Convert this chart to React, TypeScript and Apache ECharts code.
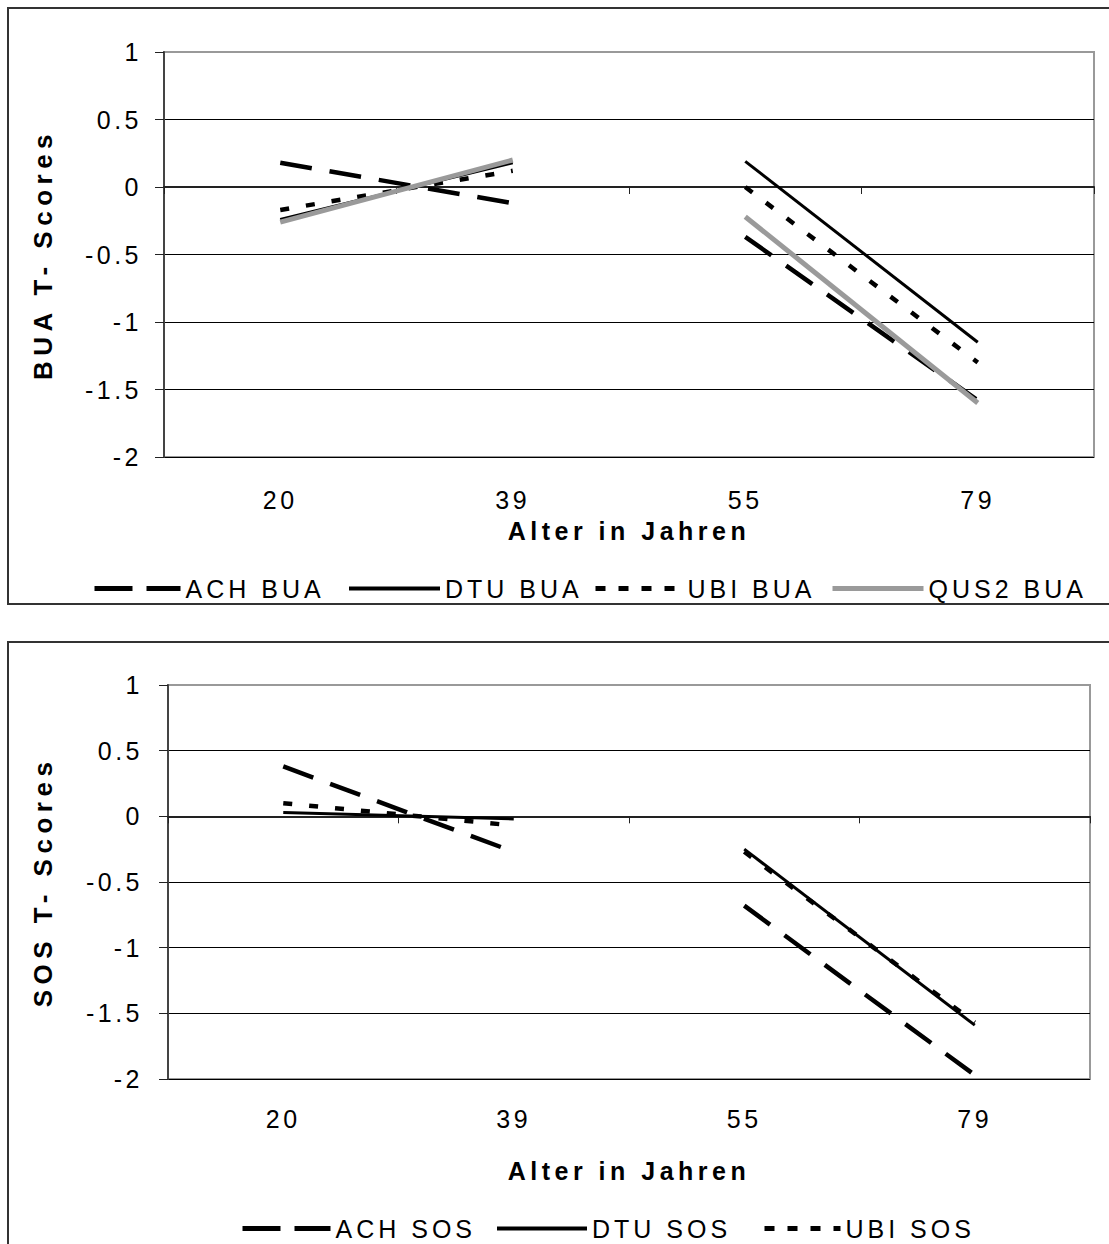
import React, { useEffect, useRef } from 'react';
import * as echarts from 'echarts';

// ---- data ----
const ages = ['20', '39', '55', '79'];

const achBua = [0.18, -0.12, -0.37, -1.58];
const dtuBua = [-0.24, 0.18, 0.19, -1.15];
const ubiBua = [-0.17, 0.12, 0.0, -1.3];
const qusBua = [-0.26, 0.2, -0.22, -1.6];

const achSos = [0.38, -0.27, -0.68, -1.97];
const dtuSos = [0.03, -0.02, -0.25, -1.59];
const ubiSos = [0.1, -0.07, -0.27, -1.57];

const buaNames = ['ACH BUA', 'DTU BUA', 'UBI BUA', 'QUS2 BUA'];
const sosNames = ['ACH SOS', 'DTU SOS', 'UBI SOS'];

const FONT = '"Liberation Sans", Arial, Helvetica, sans-serif';

const styles: Record<string, any> = {
  ACH: { color: '#000', width: 4.5, type: [32, 18], legendType: [38, 14], legendWidth: 5 },
  DTU: { color: '#000', width: 3, type: 'solid', legendType: 'solid', legendWidth: 4 },
  UBI: { color: '#000', width: 4.5, type: [9, 17], legendType: [10, 13], legendWidth: 5 },
  QUS2: { color: '#9a9a9a', width: 5, type: 'solid', legendType: 'solid', legendWidth: 5 },
};

function styleOf(name: string) {
  return styles[name.split(' ')[0]];
}

function half(values: number[], first: boolean) {
  return values.map((v, i) => ((first ? i < 2 : i >= 2) ? v : '-'));
}

function makeSeries(name: string, values: number[], axis: number) {
  const st = styleOf(name);
  const base = {
    type: 'line',
    name,
    xAxisIndex: axis,
    yAxisIndex: axis,
    symbol: 'none',
    connectNulls: false,
    color: st.color,
    lineStyle: { color: st.color, width: st.width, type: st.type, cap: 'butt' },
    emphasis: { disabled: true },
    silent: true,
  };
  return [
    { ...base, data: half(values, true) },
    { ...base, data: half(values, false) },
  ];
}

function xAxis(grid: number, labelMargin: number, nameGap: number) {
  return {
    type: 'category',
    gridIndex: grid,
    data: ages,
    boundaryGap: true,
    name: 'Alter in Jahren',
    nameLocation: 'middle',
    nameGap,
    nameTextStyle: { fontFamily: FONT, fontSize: 25, fontWeight: 'bold', color: '#000' },
    axisLine: { lineStyle: { color: '#222', width: 2 } },
    axisTick: { show: true, length: 7, lineStyle: { color: '#222', width: 1 } },
    axisLabel: { margin: labelMargin, fontFamily: FONT, fontSize: 25, color: '#000' },
    splitLine: { show: false },
  };
}

function yAxis(grid: number, name: string, labelMargin: number, nameGap: number) {
  return {
    type: 'value',
    gridIndex: grid,
    min: -2,
    max: 1,
    interval: 0.5,
    name,
    nameLocation: 'middle',
    nameGap,
    nameTextStyle: { fontFamily: FONT, fontSize: 26, fontWeight: 'bold', color: '#000' },
    axisLine: { show: true, lineStyle: { color: '#444', width: 2 } },
    axisTick: { show: true, length: 9, lineStyle: { color: '#222', width: 1 } },
    axisLabel: { margin: labelMargin, fontFamily: FONT, fontSize: 25, color: '#000' },
    splitLine: { show: true, showMaxLine: false, lineStyle: { color: '#000', width: 1 } },
  };
}

function legendItem(name: string, left: number, top: number, itemWidth: number) {
  const st = styleOf(name);
  return {
    data: [name],
    left,
    top,
    padding: 0,
    itemWidth,
    itemHeight: 14,
    selectedMode: false,
    itemStyle: { opacity: 0 },
    lineStyle: { color: st.color, width: st.legendWidth, type: st.legendType, cap: 'butt' },
    textStyle: { fontFamily: FONT, fontSize: 25, color: '#000' },
  };
}

export default function App() {
  const ref = useRef<HTMLDivElement>(null);

  useEffect(() => {
    if (!ref.current) return;
    const chart = echarts.init(ref.current, null, { renderer: 'svg' });

    const series = [
      ...makeSeries(buaNames[0], achBua, 0),
      ...makeSeries(buaNames[1], dtuBua, 0),
      ...makeSeries(buaNames[2], ubiBua, 0),
      ...makeSeries(buaNames[3], qusBua, 0),
      ...makeSeries(sosNames[0], achSos, 1),
      ...makeSeries(sosNames[1], dtuSos, 1),
      ...makeSeries(sosNames[2], ubiSos, 1),
    ];

    chart.setOption({
      animation: false,
      backgroundColor: '#fff',
      textStyle: { fontFamily: FONT },
      grid: [
        { left: 164, top: 52, width: 930, height: 405, show: true, borderColor: '#999', borderWidth: 2, backgroundColor: 'transparent' },
        { left: 168, top: 685, width: 922, height: 394, show: true, borderColor: '#999', borderWidth: 2, backgroundColor: 'transparent' },
      ],
      xAxis: [xAxis(0, 30, 61), xAxis(1, 27, 79)],
      yAxis: [yAxis(0, 'BUA T- Scores', 22, 108), yAxis(1, 'SOS T- Scores', 25, 112)],
      legend: [
        legendItem(buaNames[0], 92, 576, 86),
        legendItem(buaNames[1], 347, 576, 91),
        legendItem(buaNames[2], 593, 576, 87),
        legendItem(buaNames[3], 830, 576, 91),
        legendItem(sosNames[0], 240, 1216, 88),
        legendItem(sosNames[1], 495, 1216, 90),
        legendItem(sosNames[2], 762, 1216, 76),
      ],
      graphic: [
        { type: 'rect', silent: true, shape: { x: 8, y: 8, width: 1200, height: 596 }, style: { fill: 'none', stroke: '#333', lineWidth: 2 } },
        { type: 'rect', silent: true, shape: { x: 8, y: 642, width: 1200, height: 700 }, style: { fill: 'none', stroke: '#333', lineWidth: 2 } },
      ],
      series,
    });

    // Excel-like letter spacing on texts
    const texts = ref.current.querySelectorAll('text');
    texts.forEach((t) => {
      const s = t.textContent || '';
      let ls = 3.5;
      if (s.indexOf('Scores') >= 0) ls = 5.5;
      else if (s.indexOf('Alter') >= 0) ls = 4.5;
      else if (/[A-Z]{2}/.test(s)) ls = 4;
      t.setAttribute('letter-spacing', String(ls));
    });

    return () => chart.dispose();
  }, []);

  return (
    <div
      ref={ref}
      style={{ position: 'absolute', left: 0, top: 0, width: 1109, height: 1244, background: '#fff' }}
    />
  );
}
